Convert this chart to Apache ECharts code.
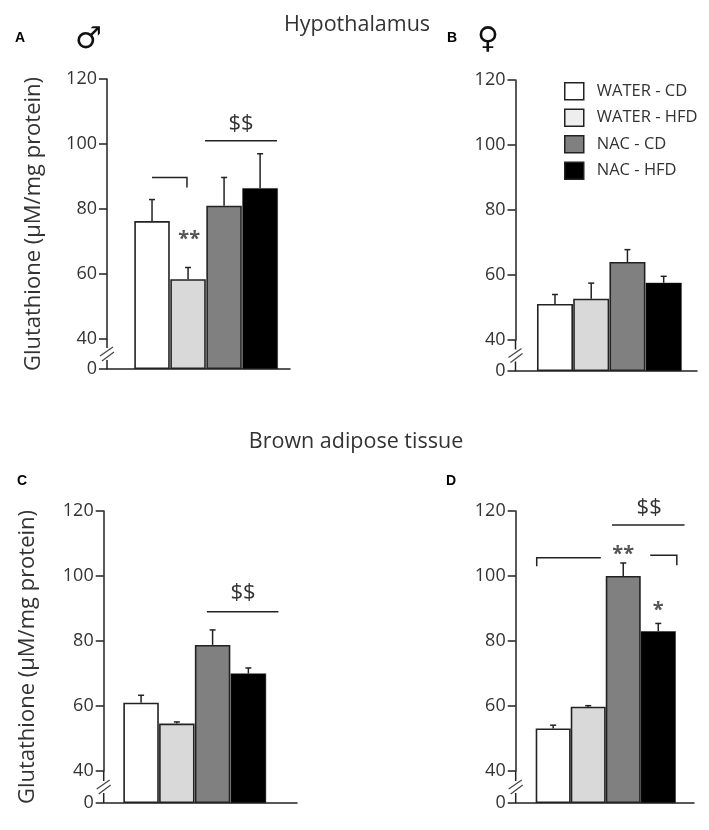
<!DOCTYPE html>
<html><head><meta charset="utf-8">
<style>html,body{margin:0;padding:0;background:#fff}#c{width:709px;height:830px}</style>
<script src="https://cdn.jsdelivr.net/npm/echarts@6/dist/echarts.min.js"></script>
</head><body><div id="c"></div>
<script>
const treatments = ['WATER - CD','WATER - HFD','NAC - CD','NAC - HFD'];
const valuesA = [76.3,58.4,81,86.4];
const errorsA = [82.9,62,89.7,97];
const valuesB = [51.1,52.7,64,57.6];
const errorsB = [54,57.5,67.8,59.6];
const valuesC = [61,54.6,78.8,70];
const errorsC = [63.3,55.1,83.4,71.7];
const valuesD = [53.1,59.8,100,83];
const errorsD = [54.1,60.1,104,85.4];
// annotation polylines, in axis units: [x, value] vertices
const linesA = [[[1.47,101],[3.47,101]],[[0,89.7],[0.97,89.7],[0.97,86.6]]];
const textsA = [['$$',2.47,106.2,22],['**',1.03,71.6,20]];
const linesB = [];
const textsB = [];
const linesC = [[[1.84,89],[3.84,89]]];
const textsC = [['$$',2.85,94.9,22]];
const linesD = [[[1.68,115.7],[3.75,115.7]],[[-0.47,103],[-0.47,105.6],[1.36,105.6]],[[2.77,106.4],[3.53,106.4],[3.53,103.3]]];
const textsD = [['$$',2.74,120.9,22],['**',2.0,107.7,20],['*',3.0,90.4,20]];

const fills = ['#ffffff','#d9d9d9','#808080','#000000'];
const legendFills = ['#ffffff','#eeeeee','#808080','#000000'];
const ink = '#222222';
const textInk = '#333333';
const fontFamily = '"Open Sans","Noto Sans",sans-serif';

const panels = [
 {v:valuesA,e:errorsA,l:linesA,t:textsA,left:107,right:290,top:79,bottom:369,xmin:-1.25,xmax:3.83,name:true,nameGap:62,bw:35.5},
 {v:valuesB,e:errorsB,l:linesB,t:textsB,left:515.5,right:697,top:80,bottom:371,xmin:-1.09,xmax:3.92,name:false,bw:36},
 {v:valuesC,e:errorsC,l:linesC,t:textsC,left:103.7,right:297,top:511,bottom:803,xmin:-1.045,xmax:4.36,name:true,nameGap:65,bw:35.5},
 {v:valuesD,e:errorsD,l:linesD,t:textsD,left:515.7,right:694,top:511,bottom:803,xmin:-1.07,xmax:4.02,name:false,bw:35}
];

const grid=[],xAxis=[],yAxis=[],series=[];
panels.forEach((p,i)=>{
  grid.push({left:p.left,top:p.top,width:p.right-p.left,height:p.bottom-p.top,containLabel:false});
  xAxis.push({gridIndex:i,type:'value',min:p.xmin,max:p.xmax,axisLabel:{show:false},axisTick:{show:false},splitLine:{show:false},
    axisLine:{onZero:false,lineStyle:{color:ink,width:1.5}}});
  yAxis.push({gridIndex:i,type:'value',min:0,max:120,interval:20,
    breaks:[{start:0,end:40,gap:(p.bottom-p.top-260)/3.25}],
    breakArea:{show:false},
    splitLine:{show:false},
    axisLine:{show:true,onZero:false,lineStyle:{color:ink,width:1.5}},
    axisTick:{show:true,length:8,lineStyle:{color:ink,width:1.5}},
    axisLabel:{color:textInk,fontFamily,fontSize:18,margin:10},
    name:p.name?'Glutathione (µM/mg protein)':'',nameLocation:'middle',nameGap:p.nameGap,
    nameTextStyle:{color:textInk,fontFamily,fontSize:22}});
  treatments.forEach((name,k)=>{
    series.push({type:'bar',name,xAxisIndex:i,yAxisIndex:i,barWidth:p.bw,barGap:'-100%',data:[[k,p.v[k]]],
      itemStyle:{color:fills[k],borderColor:ink,borderWidth:k===3?0.5:1.6},silent:true,animation:false});
  });
  // error bars
  series.push({type:'custom',xAxisIndex:i,yAxisIndex:i,silent:true,animation:false,clip:false,z:1,
    data:p.e.map((e,k)=>[k,p.v[k],e]),encode:{x:0,y:[1,2]},
    renderItem(params,api){
      const a=api.coord([api.value(0),api.value(1)]),b=api.coord([api.value(0),api.value(2)]);
      const st={stroke:ink,lineWidth:1.5,fill:null};
      return {type:'group',children:[
        {type:'line',shape:{x1:a[0],y1:a[1],x2:b[0],y2:b[1]},style:st},
        {type:'line',shape:{x1:b[0]-3,y1:b[1],x2:b[0]+3,y2:b[1]},style:st}]};
    }});
  // annotations and axis-break slashes
  series.push({type:'custom',xAxisIndex:i,yAxisIndex:i,silent:true,animation:false,clip:false,z:5,
    data:[[0,40]],encode:{x:0,y:1},
    renderItem(params,api){
      const ch=[];
      p.l.forEach(pts=>{
        ch.push({type:'polyline',shape:{points:pts.map(q=>api.coord(q))},style:{stroke:ink,lineWidth:1.5,fill:null}});
      });
      p.t.forEach(t=>{
        const c=api.coord([t[1],t[2]]);
        const star=t[0]!=='$$';
        ch.push({type:'text',x:c[0],y:c[1]+(star?3:0),style:{text:t[0],fontSize:t[3],fontFamily,fontWeight:star?'bold':'normal',fill:star?'#555555':textInk,align:'center',verticalAlign:'middle'}});
      });
      const top=api.coord([p.xmin,40]),bot=api.coord([p.xmin,0]);
      const x=top[0],y=(top[1]+bot[1])/2;
      ch.push({type:'line',shape:{x1:x,y1:top[1],x2:x,y2:y-6},style:{stroke:ink,lineWidth:1.5}});
      ch.push({type:'line',shape:{x1:x,y1:y+6,x2:x,y2:bot[1]},style:{stroke:ink,lineWidth:1.5}});
      ch.push({type:'line',shape:{x1:x-7,y1:y+2,x2:x+6,y2:y-7},style:{stroke:'#444',lineWidth:1.2}});
      ch.push({type:'line',shape:{x1:x-5,y1:y+7,x2:x+7,y2:y-2},style:{stroke:'#444',lineWidth:1.2}});
      return {type:'group',children:ch};
    }});
});

const letter={color:'#000',fontFamily:'"Liberation Sans"',fontSize:14,fontWeight:'bold'};
const heading={color:textInk,fontFamily,fontSize:21.5,fontWeight:'normal'};
const symbol={color:'#111',fontFamily:'"DejaVu Sans"',fontSize:30,fontWeight:'bold'};
const chart=echarts.init(document.getElementById('c'),null,{renderer:'canvas'});
chart.setOption({
  animation:false,backgroundColor:'#fff',
  title:[
    {text:'Hypothalamus',left:352,top:9,textAlign:'center',textStyle:heading},
    {text:'Brown adipose tissue',left:351,top:426,textAlign:'center',textStyle:heading},
    {text:'A',left:10,top:26,textStyle:letter},
    {text:'B',left:442,top:26,textStyle:letter},
    {text:'C',left:12,top:469,textStyle:letter},
    {text:'D',left:441,top:469,textStyle:letter},
    {text:'♂',left:70,top:20,textStyle:symbol},
    {text:'♀',left:472,top:20,textStyle:symbol}
  ],
  legend:{orient:'vertical',left:564,top:82,padding:0,itemWidth:19,itemHeight:17,itemGap:8,selectedMode:false,
    data:treatments.map((name,k)=>({name,icon:'rect',itemStyle:{color:legendFills[k],borderColor:ink,borderWidth:1.5}})),
    textStyle:{color:textInk,fontFamily,fontSize:16.5,lineHeight:17,padding:[0,0,0,8]}},
  grid,xAxis,yAxis,series
});
</script></body></html>
